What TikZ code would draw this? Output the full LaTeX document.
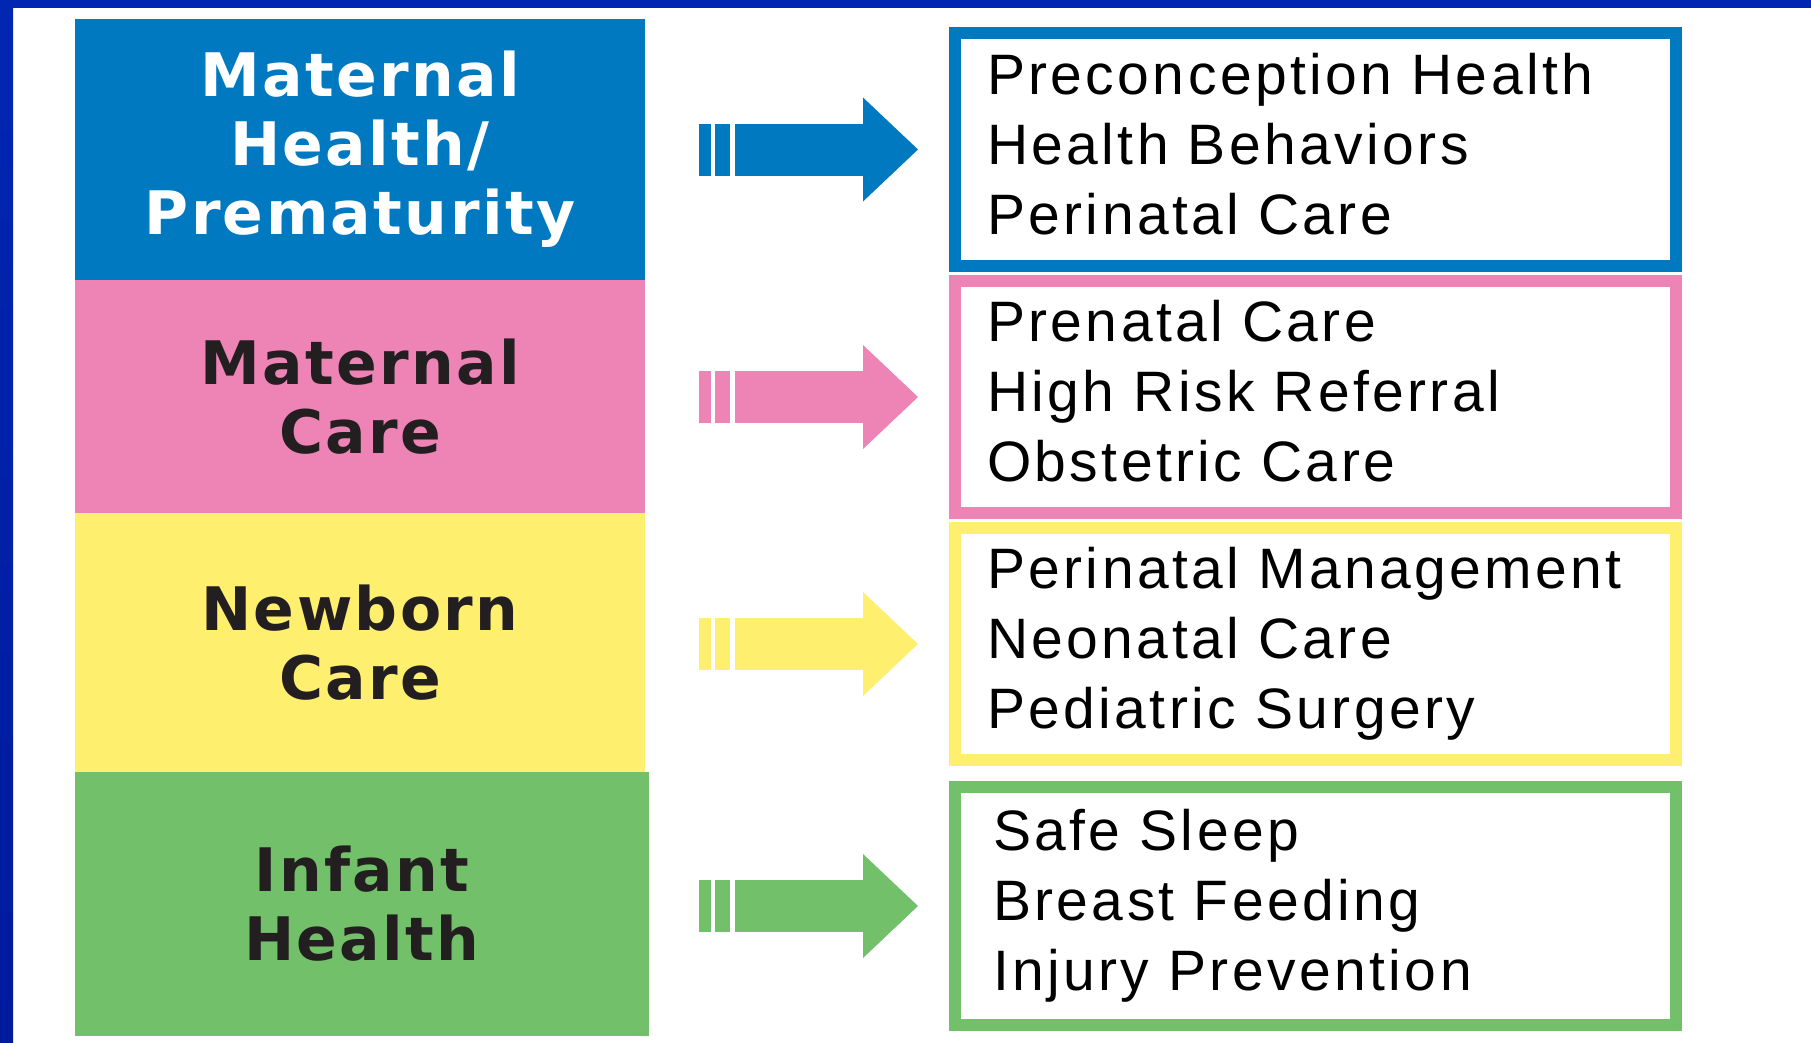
\documentclass[tikz,border=0pt]{standalone}
\usepackage{fontspec}
\setmainfont{Liberation Sans}
\newfontfamily\headfont[LetterSpace=4]{DejaVu Sans}
\newfontfamily\listfont[LetterSpace=6]{Liberation Sans}
\usetikzlibrary{positioning,arrows.meta}

\definecolor{mhblue}{HTML}{0079C1}
\definecolor{mcpink}{HTML}{EE83B5}
\definecolor{ncyellow}{HTML}{FFEF6F}
\definecolor{ihgreen}{HTML}{73C06A}
\definecolor{inkdark}{HTML}{231F20}
\definecolor{frametop}{HTML}{0026B2}
\definecolor{framemid}{HTML}{0040DE}
\definecolor{framebot}{HTML}{001A9C}

\begin{document}
\begin{tikzpicture}[x=1pt,y=-1pt]
    \tikzstyle{stage}=[anchor=north west, inner sep=0pt, outer sep=0pt, minimum width=570pt,
        align=center, text=inkdark, font=\headfont\bfseries\fontsize{60}{69}\selectfont]
    \tikzstyle{target}=[draw, line width=12pt, inner xsep=32pt, inner ysep=0pt, outer sep=0pt,
        text width=657pt, align=left, text=black, font=\listfont\fontsize{57}{70}\selectfont,
        execute at end node={\rule[-12pt]{0pt}{0pt}}]
    \tikzstyle{flow}=[line width=52pt, dash pattern=on 12pt off 4pt on 15pt off 5pt on 2000pt,
        -{Triangle[length=55pt,width=104pt,line width=0pt]}]

    \useasboundingbox (0,0) rectangle (1811,1042);
    % slide frame
    \fill[white] (0,0) rectangle (1811,1042);
    \shade[top color=frametop, middle color=framemid, bottom color=framebot] (0,0) rectangle (13,1042);
    \fill[frametop] (0,0) rectangle (1811,8);

    % stages
    \node[stage, fill=mhblue, text=white, minimum height=261pt] (mh) at (75,19) {Maternal\\Health/\\Prematurity};
    \node[stage, fill=mcpink, minimum height=233pt, below=0pt of mh.south west, anchor=north west] (mc) {Maternal\\Care};
    \node[stage, fill=ncyellow, minimum height=259pt, below=0pt of mc.south west, anchor=north west] (nc) {Newborn\\Care};
    \node[stage, fill=ihgreen, minimum width=574pt, minimum height=264pt, below=0pt of nc.south west, anchor=north west] (ih) {Infant\\Health};

    % focus areas
    \node[target, draw=mhblue, minimum height=233pt] (mhlist) at (1315.5,149.5) {Preconception Health\\Health Behaviors\\Perinatal Care};
    \node[target, draw=mcpink, minimum height=232pt] (mclist) at (1315.5,397) {Prenatal Care\\High Risk Referral\\Obstetric Care};
    \node[target, draw=ncyellow, minimum height=232pt] (nclist) at (1315.5,644) {Perinatal Management\\Neonatal Care\\Pediatric Surgery};
    \node[target, draw=ihgreen, minimum height=238pt, inner xsep=38pt, text width=645pt] (ihlist) at (1315.5,906) {Safe Sleep\\Breast Feeding\\Injury Prevention};

    \draw[flow, mhblue] ([xshift=54pt]mh.east |- mhlist.west) -- ([xshift=-37pt]mhlist.west);
    \draw[flow, mcpink] ([xshift=54pt]mc.east |- mclist.west) -- ([xshift=-37pt]mclist.west);
    \draw[flow, ncyellow] ([xshift=54pt]nc.east |- nclist.west) -- ([xshift=-37pt]nclist.west);
    \draw[flow, ihgreen] ([xshift=50pt]ih.east |- ihlist.west) -- ([xshift=-37pt]ihlist.west);
\end{tikzpicture}
\end{document}
